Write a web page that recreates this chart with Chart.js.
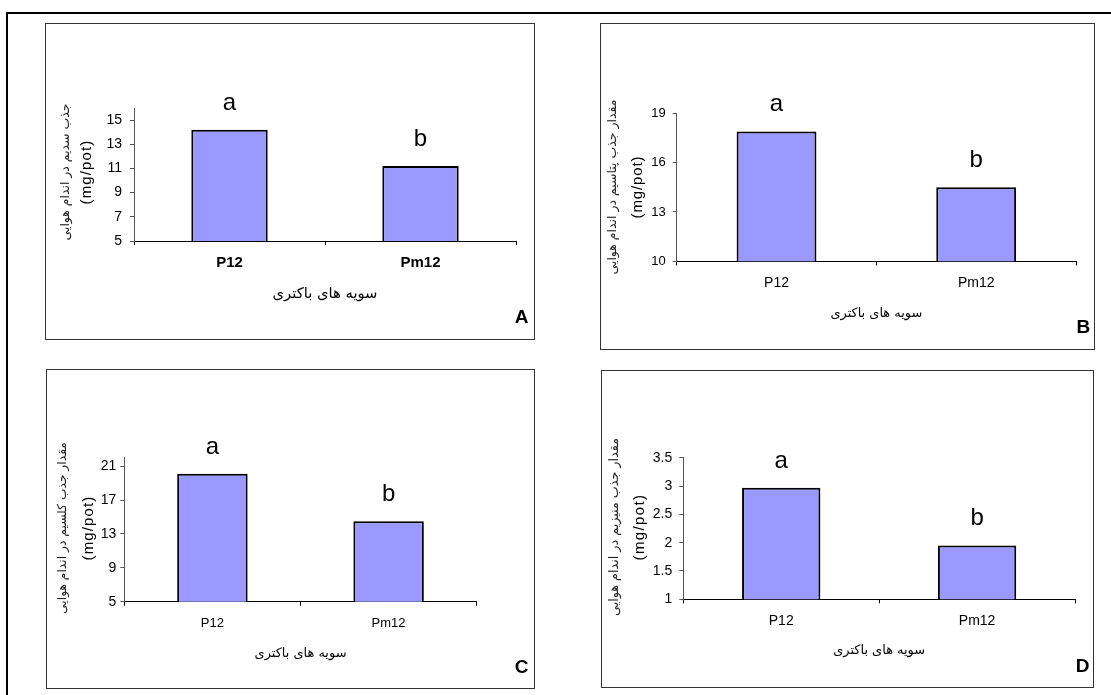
<!DOCTYPE html>
<html>
<head>
<meta charset="utf-8">
<script src="https://cdn.jsdelivr.net/npm/chart.js@4.4.1/dist/chart.umd.min.js"></script>
<style>
html,body{margin:0;padding:0;background:#fff;width:1111px;height:695px;overflow:hidden;position:relative}
.frame{position:absolute;left:6px;top:12px;width:1300px;height:900px;border-top:2px solid #000;border-left:2px solid #000}
.box{position:absolute;border:1px solid #333;box-sizing:border-box}
canvas{position:absolute}
</style>
</head>
<body>
<div class="frame"></div>
<div class="box" id="bA"></div><div class="box" id="bB"></div><div class="box" id="bC"></div><div class="box" id="bD"></div>
<canvas id="cA"></canvas><canvas id="cB"></canvas><canvas id="cC"></canvas><canvas id="cD"></canvas>
<script>
// ---- data ----
const categories = ['P12', 'Pm12'];
const groupLetters = ['a', 'b'];
const valuesA = [14.2, 11.2];
const valuesB = [17.9, 14.5];
const valuesC = [20.1, 14.5];
const valuesD = [2.97, 1.95];
const ticksA = [5, 7, 9, 11, 13, 15];
const ticksB = [10, 13, 16, 19];
const ticksC = [5, 9, 13, 17, 21];
const ticksD = [1, 1.5, 2, 2.5, 3, 3.5];
const rangeA = [5, 16];
const rangeB = [10, 19];
const rangeC = [5, 22];
const rangeD = [1, 3.5];
const yTitleA = 'جذب سدیم در اندام هوایی';
const yTitleB = 'مقدار جذب پتاسیم در اندام هوایی';
const yTitleC = 'مقدار جذب کلسیم در اندام هوایی';
const yTitleD = 'مقدار جذب منیزیم در اندام هوایی';
const unitTitle = '(mg/pot)';
const xTitle = 'سویه های باکتری';
const panelLetters = ['A', 'B', 'C', 'D'];

// ---- styles / layout ----
const LAT = '"Liberation Sans", Arial, sans-serif';
const AR = '"DejaVu Sans", sans-serif';

const panels = [
  {id:'A', box:[45,23,490,317], padTop:85, padRight:19, yW:89, xH:99, yFont:14, yPad:8, xFont:15, xBold:true, xPad:8.5,
   xtLen:105, xtCenter:271, pX:21, mX:41.7, tCy:149, pLen:137, mLen:65, lx:476.7, ly:300.3},
  {id:'B', box:[600,23,495,327], padTop:90.3, padRight:19, yW:76.7, xH:88.7, yFont:13, yPad:7, xFont:14, xBold:false, xPad:9.6,
   xtLen:92, xtCenter:290.3, pX:12.5, mX:37.5, tCy:164, pLen:175, mLen:63, lx:483.3, ly:310.3},
  {id:'C', box:[46,369,489,320], padTop:88.7, padRight:58.3, yW:78.3, xH:87.3, yFont:14, yPad:4, xFont:13, xBold:false, xPad:9.8,
   xtLen:92, xtCenter:284.3, pX:16.5, mX:42.5, tCy:159, pLen:172, mLen:65, lx:475.7, ly:304.3},
  {id:'D', box:[601,370,493,318], padTop:87.7, padRight:19, yW:82.3, xH:88.7, yFont:14, yPad:7, xFont:14, xBold:false, xPad:9.3,
   xtLen:92, xtCenter:281, pX:14, mX:39, tCy:157, pLen:178, mLen:67, lx:481.7, ly:301.7}
];
const dataSets = {A:valuesA, B:valuesB, C:valuesC, D:valuesD};
const tickSets = {A:ticksA, B:ticksB, C:ticksC, D:ticksD};
const ranges = {A:rangeA, B:rangeB, C:rangeC, D:rangeD};
const yTitles = {A:yTitleA, B:yTitleB, C:yTitleC, D:yTitleD};

const mctx = document.createElement('canvas').getContext('2d');
function fitSize(text, family, weight, target) {
  mctx.font = weight + ' 20px ' + family;
  const w = mctx.measureText(text).width;
  return 20 * target / w;
}

panels.forEach((p, idx) => {
  const [bx, by, bw, bh] = p.box;
  const box = document.getElementById('b' + p.id);
  Object.assign(box.style, {left: bx + 'px', top: by + 'px', width: bw + 'px', height: bh + 'px'});
  const cv = document.getElementById('c' + p.id);
  cv.width = bw; cv.height = bh;
  Object.assign(cv.style, {left: bx + 'px', top: by + 'px', width: bw + 'px', height: bh + 'px'});

  const xtSize = fitSize(xTitle, AR, 'normal', p.xtLen);
  const xtPb = (bh - p.xtCenter) - xtSize * 0.6;
  const pSize = Math.min(14, fitSize(yTitles[p.id], AR, 'normal', p.pLen));

  const annot = {
    id: 'annot' + p.id,
    afterDatasetsDraw(chart) {
      const ctx = chart.ctx;
      const meta = chart.getDatasetMeta(0);
      ctx.save();
      ctx.fillStyle = '#000';
      ctx.font = '24px ' + LAT;
      ctx.textAlign = 'center';
      ctx.textBaseline = 'alphabetic';
      meta.data.forEach((bar, i) => {
        ctx.fillText(groupLetters[i], bar.x, bar.y - 20);
      });
      // panel letter
      ctx.font = 'bold 19px ' + LAT;
      ctx.fillText(panelLetters[idx], p.lx, p.ly);
      // y title (two lines, rotated)
      ctx.textBaseline = 'middle';
      ctx.save();
      ctx.translate(p.pX, p.tCy);
      ctx.rotate(-Math.PI / 2);
      ctx.font = pSize.toFixed(2) + 'px ' + AR;
      ctx.fillStyle = '#222';
      ctx.fillText(yTitles[p.id], 0, 0);
      ctx.restore();
      ctx.save();
      ctx.translate(p.mX, p.tCy);
      ctx.rotate(-Math.PI / 2);
      ctx.font = '15px ' + LAT;
      const w = ctx.measureText(unitTitle).width;
      if ('letterSpacing' in ctx) {
        const sp = Math.max(0, (p.mLen - w) / (unitTitle.length));
        ctx.letterSpacing = sp.toFixed(2) + 'px';
      }
      ctx.fillStyle = '#000';
      ctx.fillText(unitTitle, 0, 0);
      ctx.restore();
      ctx.restore();
    }
  };

  new Chart(cv, {
    type: 'bar',
    data: {
      labels: categories,
      datasets: [{
        data: dataSets[p.id],
        backgroundColor: '#9999FF',
        borderColor: '#000000',
        borderWidth: 2,
        borderSkipped: 'start',
        barPercentage: 0.4,
        categoryPercentage: 1
      }]
    },
    options: {
      responsive: false,
      animation: false,
      devicePixelRatio: 1,
      layout: {padding: {left: 0, top: p.padTop, right: p.padRight, bottom: 0}},
      plugins: {legend: {display: false}, tooltip: {enabled: false}, title: {display: false}},
      scales: {
        x: {
          type: 'category',
          offset: true,
          grid: {offset: true, drawOnChartArea: false, tickLength: 4, color: '#000', lineWidth: 1},
          border: {color: '#000', width: 1},
          ticks: {color: '#000', font: {family: LAT, size: p.xFont, weight: p.xBold ? 'bold' : 'normal'}, padding: p.xPad, maxRotation: 0, autoSkip: false},
          title: {display: true, text: xTitle, color: '#000', font: {family: AR, size: xtSize}, padding: {top: 0, bottom: xtPb}},
          afterFit: s => { s.height = p.xH; }
        },
        y: {
          type: 'linear',
          min: ranges[p.id][0],
          max: ranges[p.id][1],
          afterBuildTicks: s => { s.ticks = tickSets[p.id].map(v => ({value: v})); },
          grid: {drawOnChartArea: false, tickLength: 4, color: '#555', lineWidth: 1},
          border: {color: '#555', width: 1},
          ticks: {color: '#000', font: {family: LAT, size: p.yFont}, padding: p.yPad, callback: v => String(v)},
          afterFit: s => { s.width = p.yW; }
        }
      }
    },
    plugins: [annot]
  });
});
</script>
</body>
</html>
